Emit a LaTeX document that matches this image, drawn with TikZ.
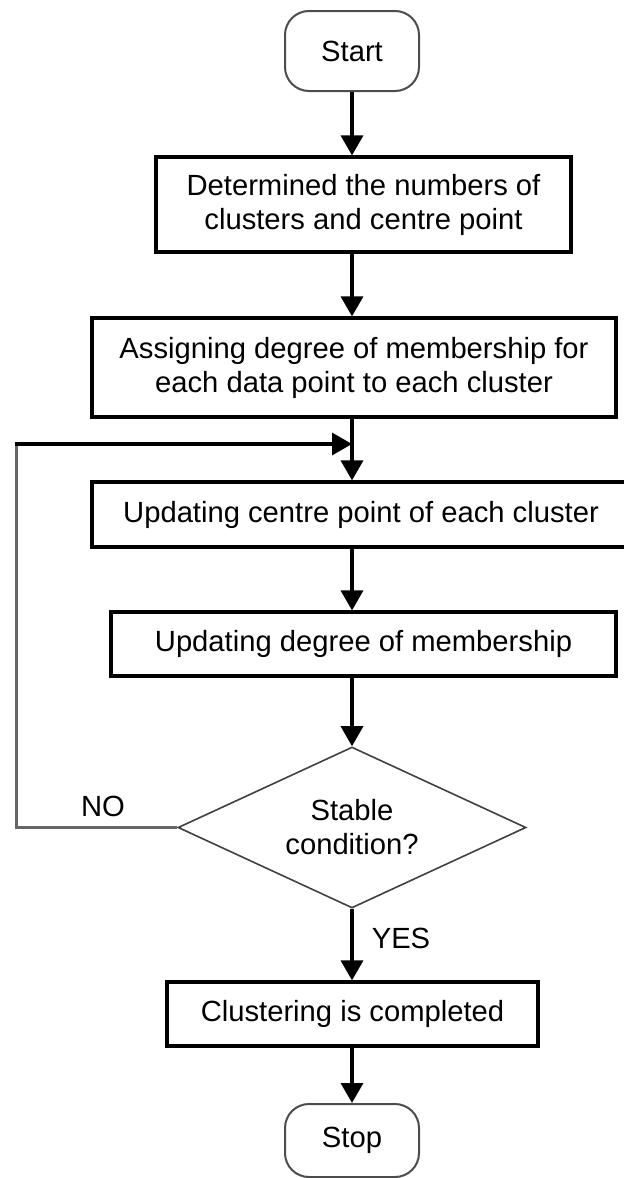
\documentclass[tikz,border=0pt]{standalone}
\usepackage{fontspec}
\setmainfont{Liberation Sans}
\usetikzlibrary{shapes.geometric,arrows.meta}

\tikzset{
  terminal/.style={draw=black!70, line width=1pt, rounded corners=12pt, minimum width=67pt, inner sep=0pt},
  process/.style={draw, line width=1.6pt, align=center, inner sep=0pt},
  decision/.style={diamond, draw=black!75, line width=0.8pt, aspect=2.16, align=center, inner sep=0pt, minimum width=174pt, minimum height=80.5pt},
  arr/.style={line width=1.7pt, -{Triangle[length=10pt,width=11pt]}},
  backline/.style={draw=black!60, line width=1.5pt}
}

\begin{document}
\begin{tikzpicture}[x=0.5pt,y=-0.5pt,font=\fontsize{14.6}{17}\selectfont]
\useasboundingbox (0,0) rectangle (624,1178);
% boxes
\node[terminal, minimum height=40pt] (start) at (352,51) {Start};
\node[process, minimum width=207.5pt, minimum height=47.5pt] (detclust) at (363.5,204.5) {Determined the numbers of\\clusters and centre point};
\node[process, minimum width=262pt, minimum height=49.5pt] (assign) at (354,367.5) {Assigning degree of membership for\\each data point to each cluster};
\node[process, minimum width=269pt, minimum height=32.5pt] (updcent) at (361,514.5) {Updating centre point of each cluster};
\node[process, minimum width=252.5pt, minimum height=32pt] (updmem) at (363.5,644) {Updating degree of membership};
\node[decision] (stable) at (352,827.5) {Stable\\condition?};
\node[process, minimum width=185.5pt, minimum height=32pt] (done) at (352.5,1014) {Clustering is completed};
\node[terminal, minimum height=36.5pt] (stop) at (352,1140.5) {Stop};
\coordinate (merge) at (352,444);
\coordinate (loopcorner) at (16,444);
% labels
\node (nolabel) at (103,806) {NO};
\node (yeslabel) at (401,938) {YES};
% arrows
\draw[arr] (start.south) -- (start.south |- detclust.north);
\draw[arr] (detclust.south -| start) -- (assign.north -| start);
\draw[arr] (assign.south -| merge) -- (updcent.north -| merge);
\draw[arr] (updcent.south -| merge) -- (updmem.north -| merge);
\draw[arr] (updmem.south -| stable) -- (stable.north);
\draw[arr] (stable.south) -- (done.north -| stable);
\draw[arr] (done.south -| stop) -- (stop.north);
\draw[backline] (stable.west) -- (stable.west -| loopcorner) -- (loopcorner);
\draw[arr] ([xshift=-0.75pt]loopcorner) -- (merge);
\end{tikzpicture}
\end{document}
